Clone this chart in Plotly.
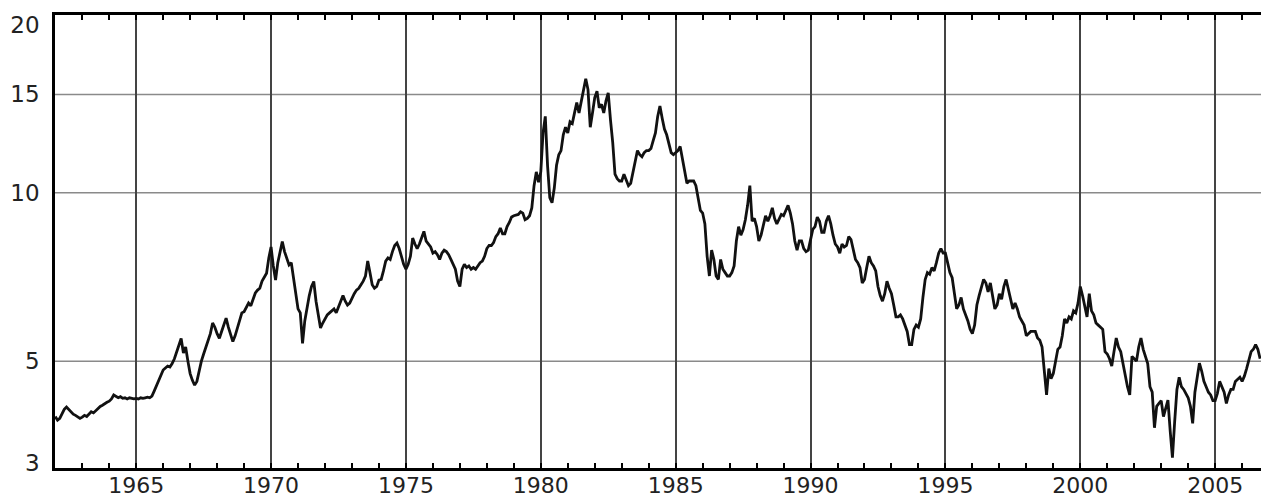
import math
import plotly.graph_objects as go

# Monthly yield readings (%)
yields_1962_1969 = [
    3.98, 3.92, 3.95, 4.02, 4.10, 4.14, 4.10, 4.06, 4.02, 4.00, 3.97, 3.95,
    3.97, 4.00, 3.98, 4.03, 4.06, 4.04, 4.08, 4.12, 4.15, 4.17, 4.20, 4.22,
    4.24, 4.28, 4.35, 4.33, 4.30, 4.32, 4.29, 4.30, 4.28, 4.30, 4.29, 4.28,
    4.29, 4.28, 4.30, 4.29, 4.30, 4.31, 4.30, 4.33, 4.42, 4.52, 4.62, 4.72,
    4.82, 4.86, 4.90, 4.88, 4.95, 5.05, 5.20, 5.35, 5.49, 5.17, 5.30, 5.00,
    4.75, 4.62, 4.53, 4.60, 4.80, 5.00, 5.15, 5.30, 5.45, 5.60, 5.85, 5.75,
    5.60, 5.49, 5.65, 5.80, 5.97, 5.75, 5.60, 5.42, 5.55, 5.75, 5.95, 6.10,
    6.13, 6.25, 6.35, 6.28, 6.45, 6.62, 6.70, 6.75, 6.95, 7.05, 7.18, 7.65,
]
yields_1970s = [
    8.00, 7.40, 6.98, 7.50, 7.90, 8.18, 7.85, 7.65, 7.43, 7.50, 7.05, 6.60,
    6.20, 6.10, 5.38, 5.90, 6.25, 6.55, 6.80, 6.94, 6.40, 6.00, 5.73, 5.85,
    5.95, 6.05, 6.10, 6.15, 6.20, 6.10, 6.25, 6.35, 6.55, 6.40, 6.30, 6.35,
    6.50, 6.60, 6.70, 6.75, 6.85, 6.95, 7.10, 7.55, 7.20, 6.85, 6.75, 6.80,
    6.98, 7.00, 7.25, 7.55, 7.65, 7.60, 7.85, 8.05, 8.13, 7.95, 7.70, 7.45,
    7.30, 7.45, 7.70, 8.30, 8.10, 7.95, 8.10, 8.35, 8.53, 8.20, 8.10, 8.00,
    7.80, 7.85, 7.75, 7.60, 7.80, 7.90, 7.85, 7.75, 7.60, 7.45, 7.30, 6.95,
    6.80, 7.30, 7.45, 7.35, 7.40, 7.30, 7.35, 7.30, 7.40, 7.50, 7.55, 7.70,
    7.95, 8.05, 8.05, 8.15, 8.35, 8.45, 8.65, 8.45, 8.45, 8.70, 8.85, 9.05,
    9.10, 9.12, 9.15, 9.25, 9.20, 8.95, 9.00, 9.10, 9.40, 10.30, 10.90, 10.45,
]
yields_1980s = [
    10.9, 12.8, 13.7, 11.2, 9.8, 9.6, 10.2, 11.2, 11.7, 11.9, 12.7, 13.1,
    12.8, 13.4, 13.3, 13.9, 14.5, 13.9, 14.6, 15.3, 16.0, 15.3, 13.1, 13.9,
    14.8, 15.2, 14.2, 14.4, 13.9, 14.6, 15.1, 13.5, 12.3, 10.8, 10.6, 10.5,
    10.5, 10.8, 10.5, 10.3, 10.4, 10.9, 11.5, 11.9, 11.7, 11.6, 11.8, 11.9,
    11.9, 12.0, 12.4, 12.8, 13.7, 14.3, 13.6, 13.0, 12.7, 12.3, 11.8, 11.7,
    11.8, 11.9, 12.1, 11.5, 10.9, 10.4, 10.5, 10.5, 10.5, 10.3, 9.8, 9.3,
    9.2, 8.8, 7.7, 7.1, 7.9, 7.6, 7.1, 7.0, 7.6, 7.3, 7.2, 7.1,
    7.1, 7.2, 7.4, 8.2, 8.7, 8.4, 8.6, 8.95, 9.5, 10.3, 8.9, 9.0,
    8.7, 8.2, 8.4, 8.8, 9.1, 8.9, 9.1, 9.4, 9.0, 8.8, 9.0, 9.15,
    9.1, 9.3, 9.5, 9.2, 8.8, 8.2, 7.9, 8.2, 8.2, 7.95, 7.85, 7.9,
]
yields_1990s = [
    8.3, 8.6, 8.7, 9.05, 8.9, 8.5, 8.5, 8.9, 9.1, 8.8, 8.4, 8.1,
    8.0, 7.8, 8.1, 8.0, 8.05, 8.35, 8.25, 7.9, 7.6, 7.5, 7.35, 6.9,
    7.0, 7.35, 7.7, 7.5, 7.4, 7.25, 6.8, 6.55, 6.4, 6.6, 6.95, 6.75,
    6.6, 6.3, 6.0, 6.0, 6.05, 5.95, 5.8, 5.65, 5.35, 5.35, 5.7, 5.8,
    5.75, 5.95, 6.5, 7.0, 7.2, 7.15, 7.35, 7.25, 7.5, 7.8, 7.95, 7.8,
    7.8, 7.5, 7.2, 7.05, 6.6, 6.2, 6.3, 6.5, 6.2, 6.05, 5.9, 5.7,
    5.6, 5.8, 6.3, 6.55, 6.8, 7.0, 6.9, 6.65, 6.9, 6.5, 6.2, 6.3,
    6.6, 6.45, 6.8, 7.0, 6.75, 6.5, 6.2, 6.35, 6.2, 6.0, 5.9, 5.8,
    5.55, 5.6, 5.65, 5.65, 5.65, 5.5, 5.45, 5.3, 4.8, 4.35, 4.85, 4.65,
    4.75, 5.0, 5.25, 5.3, 5.55, 5.95, 5.85, 6.0, 5.95, 6.15, 6.1, 6.35,
]
yields_2000s = [
    6.8, 6.55, 6.25, 6.0, 6.6, 6.15, 6.05, 5.85, 5.8, 5.75, 5.7, 5.2,
    5.15, 5.05, 4.9, 5.2, 5.5, 5.3, 5.2, 4.95, 4.7, 4.5, 4.35, 5.1,
    5.05, 5.0, 5.3, 5.5, 5.25, 5.1, 4.95, 4.5, 4.4, 3.8, 4.15, 4.2,
    4.25, 3.98, 4.14, 4.26, 3.75, 3.36, 3.9, 4.45, 4.68, 4.5, 4.45, 4.38,
    4.3, 4.15, 3.87, 4.4, 4.7, 4.96, 4.8, 4.6, 4.5, 4.4, 4.35, 4.25,
    4.25, 4.38, 4.6, 4.5, 4.4, 4.2, 4.35, 4.45, 4.45, 4.6, 4.65, 4.68,
    4.6, 4.7, 4.85, 5.0, 5.2, 5.25, 5.35, 5.25, 5.05,
]

start_year = 1962
x_tick_years = [1965, 1970, 1975, 1980, 1985, 1990, 1995, 2000, 2005]
y_grid_values = [5, 10, 15]
y_tick_values = [3.29, 5, 10, 15, 20]
y_tick_labels = ["3", "5", "10", "15", "20"]

values = yields_1962_1969 + yields_1970s + yields_1980s + yields_1990s + yields_2000s
years = [start_year + i / 12 for i in range(len(values))]

fig = go.Figure()
fig.add_trace(go.Scatter(
    x=years, y=values, mode="lines",
    line=dict(color="#111111", width=2.8),
    hoverinfo="x+y",
))

for v in y_grid_values:
    fig.add_hline(y=v, line=dict(color="#8a8a8a", width=1.5), layer="below")

fig.update_layout(
    width=1261, height=500,
    margin=dict(l=55, r=0, t=15, b=32, autoexpand=False),
    plot_bgcolor="white", paper_bgcolor="white",
    showlegend=False,
    font=dict(family="DejaVu Sans", size=23, color="#222222"),
)
fig.update_xaxes(
    range=[1961.99, 2006.70],
    tickmode="linear",
    tick0=x_tick_years[0],
    dtick=x_tick_years[1] - x_tick_years[0],
    tickformat="d",
    tickfont=dict(size=22),
    showgrid=True, gridcolor="#444444", gridwidth=1.5,
    showline=True, linecolor="black", linewidth=2.5, mirror="allticks",
    ticks="inside", ticklen=5, tickwidth=2, tickcolor="black",
    minor=dict(tickmode="linear", dtick=1, ticks="inside", ticklen=5,
               tickwidth=2, tickcolor="black", showgrid=False),
    zeroline=False,
    ticklabelstandoff=-4,
)
fig.update_yaxes(
    type="log",
    range=[math.log10(3.22), math.log10(20.8)],
    tickvals=y_tick_values, ticktext=y_tick_labels,
    showgrid=False, ticks="",
    showline=True, linecolor="black", linewidth=2.5,
    zeroline=False,
    ticklabelstandoff=8,
)

fig.write_html(
    "out.html",
    config={"displayModeBar": False},
    post_script=(
        "document.documentElement.style.overflow='hidden';"
        "document.body.style.margin='0';"
        "document.body.style.overflow='hidden';"
    ),
)
